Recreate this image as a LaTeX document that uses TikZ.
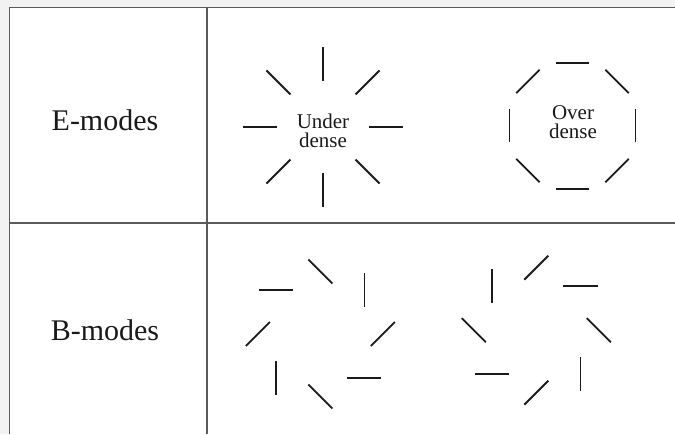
\documentclass[tikz,border=0pt]{standalone}
\usepackage{fontspec}
\setmainfont{Liberation Serif}
\usetikzlibrary{positioning}
\definecolor{pagebg}{HTML}{F2F2F2}
\definecolor{rule}{HTML}{5A5A5A}
\definecolor{ink}{HTML}{1A1A1A}

\begin{document}
\begin{tikzpicture}[
  x=1pt,y=1pt,
  every node/.append style={text=ink},
  rowlabel/.style={font=\fontsize{30}{32}\selectfont, inner sep=0pt},
  region/.style={align=center, font=\fontsize{21}{19}\selectfont, inner sep=0pt},
  grid/.style={draw=rule, line width=1.4pt},
  stick/.style={draw=ink, line width=1.8pt},
]
% page and table cells
\fill[pagebg] (0,0) rectangle (675,434);
\fill[white] (9.5,0) rectangle (675,426.5);
\useasboundingbox (0,0) rectangle (675,434);
\draw[grid] (9.5,0) -- (9.5,426.5) -- (675,426.5);
\draw[grid] (207,0) -- (207,426.5);
\draw[grid] (9.5,211) -- (675,211);
% row labels
\node[rowlabel] (emodes) at (105,314) {E-modes};
\node[rowlabel] (bmodes) at (105,104) {B-modes};
% (a) E-modes: radial around the underdensity, tangential around the overdensity
\coordinate (under) at (323,307);
\coordinate (over) at (572.5,308);
\node[region] (undertext) at (323,303) {Under\\dense};
\node[region] (overtext) at (573,312) {Over\\dense};
\foreach \a in {0,45,...,315} {
  \draw[stick, shift={(under)}, rotate=\a] (46,0) -- (80,0);
  \draw[stick, shift={(over)}, rotate=\a] (63,-16.5) -- (63,16.5);
}
% (b) B-modes: sticks turned by +45 and -45 degrees
\coordinate (curlleft) at (320.3,100);
\coordinate (curlright) at (536.3,103.8);
\foreach \a in {0,45,...,315} {
  \draw[stick, shift={(curlleft)}, rotate=\a, shift={(62.5,0)}, rotate=45] (-17,0) -- (17,0);
  \draw[stick, shift={(curlright)}, rotate=\a, shift={(62.5,0)}, rotate=-45] (-17,0) -- (17,0);
}
\end{tikzpicture}
\end{document}
